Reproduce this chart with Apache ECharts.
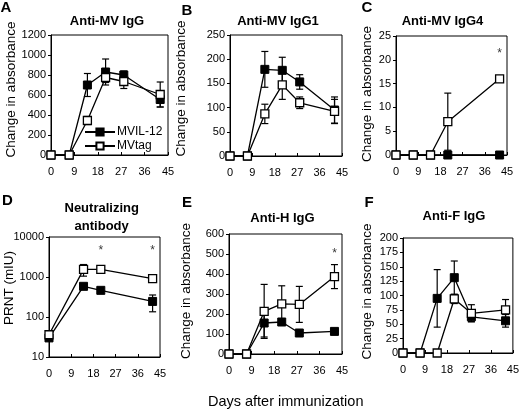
<!DOCTYPE html>
<html>
<head>
<meta charset="utf-8">
<script src="https://cdn.jsdelivr.net/npm/echarts@6/dist/echarts.min.js"></script>
<style>
  html, body { margin: 0; padding: 0; background: #fff; }
  #chart { width: 522px; height: 414px; }
</style>
</head>
<body>
<div id="chart"></div>
<script>
var font = 'Liberation Sans, Arial, sans-serif';

// days after immunization
var days = [0, 7, 14, 21, 28, 42];
var daysC = [0, 7, 14, 21, 42];
var daysD = [0, 14, 21, 42];
var xTicks = [0, 9, 18, 27, 36, 45];

// A: Anti-MV IgG
var aIL12 = [0, 0, 700, 830, 800, 555];
var aIL12Err = [0, 0, 115, 130, 40, 75];
var aTag = [0, 0, 345, 775, 735, 605];
var aTagErr = [0, 0, 40, 50, 70, 125];

// B: Anti-MV IgG1
var bIL12 = [0, 0, 179, 177, 153, 95];
var bIL12Err = [0, 0, 37, 27, 15, 27];
var bTag = [0, 0, 87, 147, 110, 92];
var bTagErr = [0, 0, 20, 30, 12, 25];

// C: Anti-MV IgG4
var cIL12 = [0, 0, 0, 0, 0];
var cIL12Err = [0, 0, 0, 0, 0];
var cTag = [0, 0, 0, 7, 16];
var cTagErr = [0, 0, 0, 6, 0.5];
var starsC = [[42, 22]];

// D: Neutralizing antibody (PRNT, log)
var dIL12 = [30, 585, 464, 245];
var dIL12Err = [0, 0, 0, 110];
var dTag = [36, 1550, 1550, 910];
var dTagErr = [0, 500, 0, 0];
var starsD = [[21, 5300], [42, 5300]];

// E: Anti-H IgG
var eIL12 = [0, 0, 155, 160, 105, 113];
var eIL12Err = [0, 0, 70, 8, 5, 5];
var eTag = [0, 0, 213, 251, 248, 387];
var eTagErr = [0, 0, 135, 90, 90, 60];
var starsE = [[42, 515]];

// F: Anti-F IgG
var fIL12 = [0, 0, 95, 131, 63, 56];
var fIL12Err = [0, 0, 50, 29, 8, 11];
var fTag = [0, 0, 0, 94, 69, 75];
var fTagErr = [0, 0, 0, 8, 15, 18];

var grids = [
    {left: 51, top: 35, width: 117, height: 120},
    {left: 230, top: 35, width: 112, height: 121},
    {left: 396, top: 36, width: 111, height: 119},
    {left: 49, top: 237, width: 111, height: 120},
    {left: 229, top: 234, width: 113, height: 120},
    {left: 403, top: 238, width: 111, height: 115}
];
var yRanges = [
    {max: 1200, interval: 200},
    {max: 250, interval: 50},
    {max: 25, interval: 5},
    {log: true},
    {max: 600, interval: 100},
    {max: 200, interval: 25}
];

var chart = echarts.init(document.getElementById('chart'));

function pairs(xs, ys) {
    return xs.map(function (x, i) { return [x, ys[i]]; });
}

function lineSeries(name, gi, xs, ys, open) {
    return {
        name: name,
        type: 'line',
        xAxisIndex: gi, yAxisIndex: gi,
        data: pairs(xs, ys),
        symbol: 'rect',
        symbolSize: 8,
        lineStyle: {color: '#000', width: 1.3},
        itemStyle: open ? {color: '#fff', borderColor: '#000', borderWidth: 1.3}
                        : {color: '#000', borderColor: '#000', borderWidth: 1},
        z: open ? 4 : 3
    };
}

function errSeries(gi, xs, ys, es) {
    var data = [];
    xs.forEach(function (x, i) { if (es[i] > 0) data.push([x, ys[i], es[i]]); });
    return {
        type: 'custom',
        xAxisIndex: gi, yAxisIndex: gi,
        data: data,
        z: 2,
        renderItem: function (params, api) {
            var x = api.value(0), y = api.value(1), e = api.value(2);
            var lo = y - e;
            if (lo <= 0) lo = y * 0.5;
            var p1 = api.coord([x, y + e]);
            var p2 = api.coord([x, lo]);
            var st = {stroke: '#000', lineWidth: 1.2};
            return {
                type: 'group',
                children: [
                    {type: 'line', shape: {x1: p1[0], y1: p1[1], x2: p2[0], y2: p2[1]}, style: st},
                    {type: 'line', shape: {x1: p1[0] - 3.5, y1: p1[1], x2: p1[0] + 3.5, y2: p1[1]}, style: st},
                    {type: 'line', shape: {x1: p2[0] - 3.5, y1: p2[1], x2: p2[0] + 3.5, y2: p2[1]}, style: st}
                ]
            };
        }
    };
}

function starSeries(gi, pts) {
    return {
        type: 'scatter',
        xAxisIndex: gi, yAxisIndex: gi,
        data: pts,
        symbolSize: 1,
        itemStyle: {color: 'rgba(0,0,0,0)'},
        label: {show: true, position: 'inside', formatter: '*', color: '#000',
                fontSize: 12, fontFamily: font, offset: [0, 3]},
        z: 5
    };
}

var panels = [
    [days, aIL12, aIL12Err, aTag, aTagErr, null],
    [days, bIL12, bIL12Err, bTag, bTagErr, null],
    [daysC, cIL12, cIL12Err, cTag, cTagErr, starsC],
    [daysD, dIL12, dIL12Err, dTag, dTagErr, starsD],
    [days, eIL12, eIL12Err, eTag, eTagErr, starsE],
    [days, fIL12, fIL12Err, fTag, fTagErr, null]
];

var series = [];
panels.forEach(function (p, gi) {
    series.push(errSeries(gi, p[0], p[1], p[2]));
    series.push(errSeries(gi, p[0], p[3], p[4]));
    series.push(lineSeries('MVIL-12', gi, p[0], p[1], false));
    series.push(lineSeries('MVtag', gi, p[0], p[3], true));
    if (p[5]) series.push(starSeries(gi, p[5]));
});

// plain numbers, no thousands separators
function plain(v) { return String(v); }

var xAxes = grids.map(function (g, gi) {
    return {
        gridIndex: gi, type: 'value', min: 0, max: 45, interval: 9,
        axisLine: {show: true, lineStyle: {color: '#000', width: 1}},
        axisTick: {show: true, inside: true, length: 3, lineStyle: {color: '#000'}},
        axisLabel: {margin: 11, fontSize: 11, color: '#000', fontFamily: font, formatter: plain},
        splitLine: {show: false}
    };
});

var yAxes = yRanges.map(function (r, gi) {
    var ax = {
        gridIndex: gi,
        axisLine: {show: true, lineStyle: {color: '#000', width: 1}},
        axisTick: {show: true, inside: false, length: 3, lineStyle: {color: '#000'}},
        axisLabel: {margin: 5, fontSize: 11, color: '#000', fontFamily: font, formatter: plain},
        splitLine: {show: false}
    };
    if (r.log) {
        ax.type = 'log'; ax.logBase = 10; ax.min = 10; ax.max = 10000;
    } else {
        ax.type = 'value'; ax.min = 0; ax.max = r.max; ax.interval = r.interval;
    }
    return ax;
});

function txt(x, y, text, size, bold, rot) {
    return {
        type: 'text', x: x, y: y, rotation: rot ? Math.PI / 2 : 0,
        style: {text: text, fontSize: size, fontWeight: bold ? 'bold' : 'normal',
                fontFamily: font, fill: '#000', align: 'center', verticalAlign: 'middle'}
    };
}

var graphics = [
    txt(6, 8, 'A', 15, true), txt(187, 10.5, 'B', 15, true), txt(367, 7.5, 'C', 15, true),
    txt(7.5, 201, 'D', 15, true), txt(187, 202.5, 'E', 15, true), txt(369, 202.5, 'F', 15, true),
    txt(107, 21.5, 'Anti-MV IgG', 13, true),
    txt(278, 21.5, 'Anti-MV IgG1', 13, true),
    txt(442.5, 21.5, 'Anti-MV IgG4', 13, true),
    txt(101.7, 208, 'Neutralizing', 13, true),
    txt(101.7, 226, 'antibody', 13, true),
    txt(282.5, 218.3, 'Anti-H IgG', 13, true),
    txt(454, 216.7, 'Anti-F IgG', 13, true),
    txt(11.7, 89.5, 'Change in absorbance', 13.5, false, true),
    txt(181.7, 88.5, 'Change in absorbance', 13.5, false, true),
    txt(367.5, 94, 'Change in absorbance', 13.5, false, true),
    txt(9.2, 288, 'PRNT (mIU)', 13.5, false, true),
    txt(185.8, 291, 'Change in absorbance', 13.5, false, true),
    txt(367.5, 291.5, 'Change in absorbance', 13.5, false, true),
    txt(285.7, 401.7, 'Days after immunization', 14.5, false)
];

var option = {
    animation: false,
    backgroundColor: '#fff',
    grid: grids.map(function (g) {
        return Object.assign({show: true, borderColor: '#000', borderWidth: 1,
                              backgroundColor: 'rgba(0,0,0,0)', containLabel: false}, g);
    }),
    xAxis: xAxes,
    yAxis: yAxes,
    legend: {
        data: ['MVIL-12', 'MVtag'],
        orient: 'vertical',
        left: 84, top: 126,
        itemWidth: 30, itemHeight: 9, itemGap: 2,
        selectedMode: false,
        textStyle: {fontSize: 12, fontFamily: font, color: '#000', padding: [0, 0, 0, -3]},
        padding: 0
    },
    graphic: graphics,
    series: series
};
chart.setOption(option);
</script>
</body>
</html>
